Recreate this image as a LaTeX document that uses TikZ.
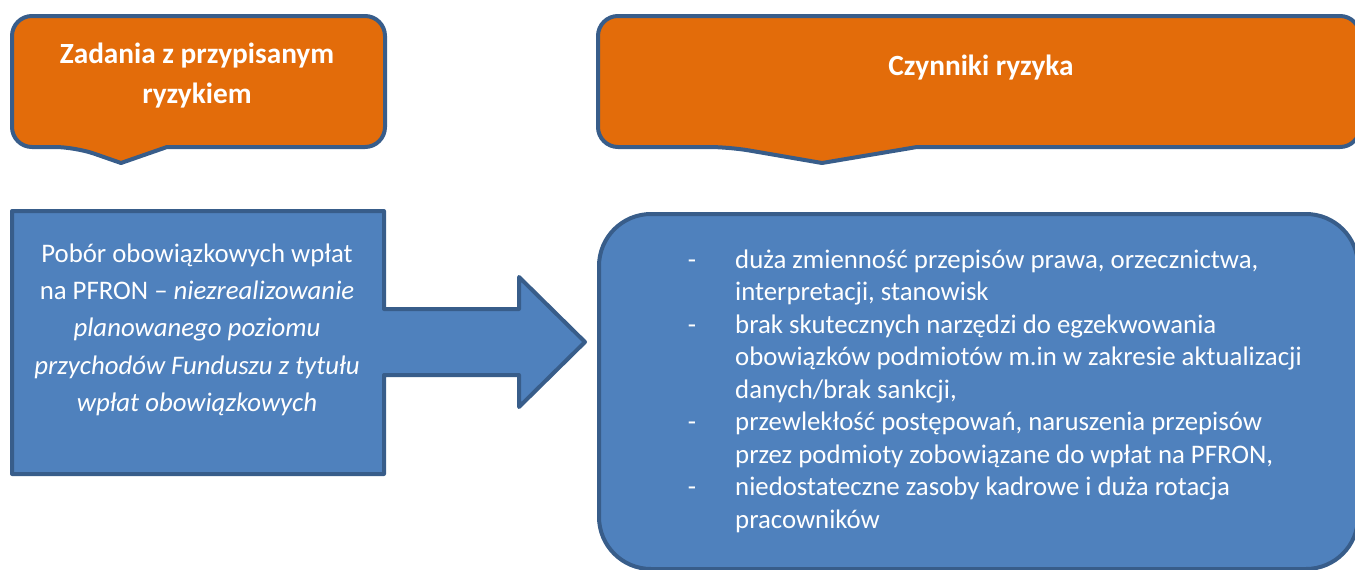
\documentclass[tikz,border=0pt]{standalone}
\usepackage{fontspec}
\setmainfont{Carlito}
\definecolor{bordc}{HTML}{385D8A}
\definecolor{orangec}{HTML}{E36C0A}
\definecolor{bluec}{HTML}{4F81BD}
\tikzset{
  callout/.style={draw=bordc, fill=orangec, line width=4pt, line join=round},
  bluebox/.style={draw=bordc, fill=bluec, line width=4pt, line join=round},
  txt/.style={text=white, inner sep=0pt, font=\fontsize{26.8}{32}\selectfont},
  ttl/.style={txt, font=\fontsize{29.3}{34}\selectfont\bfseries},
}
\begin{document}
\begin{tikzpicture}[x=1pt,y=-1pt]
\useasboundingbox (0,0) rectangle (1355,570);
\clip (0,0) rectangle (1355,570);
% left callout
\draw[callout] (167,147) [rounded corners=20] -- (385,147) -- (385,16) -- (12,16) -- (12,147) -- (75,147) [sharp corners] -- (121,163) -- cycle;
% right callout
\draw[callout] (917,147) [rounded corners=20] -- (1360,147) -- (1360,16) -- (598,16) -- (598,147) -- (729,147) [sharp corners] -- (822,163) -- cycle;
% left box with arrow
\draw[bluebox] (12,211) -- (384,211) -- (384,309) -- (519,309) -- (519,277) -- (585,342) -- (519,407) -- (519,375) -- (384,375) -- (384,474) -- (12,474) -- cycle;
% right box
\draw[bluebox, rounded corners=52] (599,214) rectangle (1358,569);
% titles
\node[ttl, anchor=base] (t1) at (197,63) {Zadania z przypisanym};
\node[ttl, anchor=base] (t2) at (197,103) {ryzykiem};
\node[ttl, anchor=base] (t3) at (981,75) {Czynniki ryzyka};
% left text
\node[txt, anchor=base] (l1) at (197,262) {Pobór obowiązkowych wpłat};
\node[txt, anchor=base] (l2) at (197,299) {na PFRON – \textit{niezrealizowanie}};
\node[txt, anchor=base] (l3) at (197,336.5) {\textit{planowanego poziomu}};
\node[txt, anchor=base] (l4) at (197,374) {\textit{przychodów Funduszu z tytułu}};
\node[txt, anchor=base] (l5) at (197,411) {\textit{wpłat obowiązkowych}};
% right text
\node[txt, anchor=base] (d1) at (692,268) {-};
\node[txt, anchor=base] (d2) at (692,333) {-};
\node[txt, anchor=base] (d3) at (692,430.5) {-};
\node[txt, anchor=base] (d4) at (692,495.5) {-};
\node[txt, anchor=base west] (r1) at (735,268) {duża zmienność przepisów prawa, orzecznictwa,};
\node[txt, anchor=base west] (r2) at (735,300.5) {interpretacji, stanowisk};
\node[txt, anchor=base west] (r3) at (735,333) {brak skutecznych narzędzi do egzekwowania};
\node[txt, anchor=base west] (r4) at (735,365.5) {obowiązków podmiotów m.in w zakresie aktualizacji};
\node[txt, anchor=base west] (r5) at (735,398) {danych/brak sankcji,};
\node[txt, anchor=base west] (r6) at (735,430.5) {przewlekłość postępowań, naruszenia przepisów};
\node[txt, anchor=base west] (r7) at (735,463) {przez podmioty zobowiązane do wpłat na PFRON,};
\node[txt, anchor=base west] (r8) at (735,495.5) {niedostateczne zasoby kadrowe i duża rotacja};
\node[txt, anchor=base west] (r9) at (735,528) {pracowników};
\end{tikzpicture}
\end{document}
